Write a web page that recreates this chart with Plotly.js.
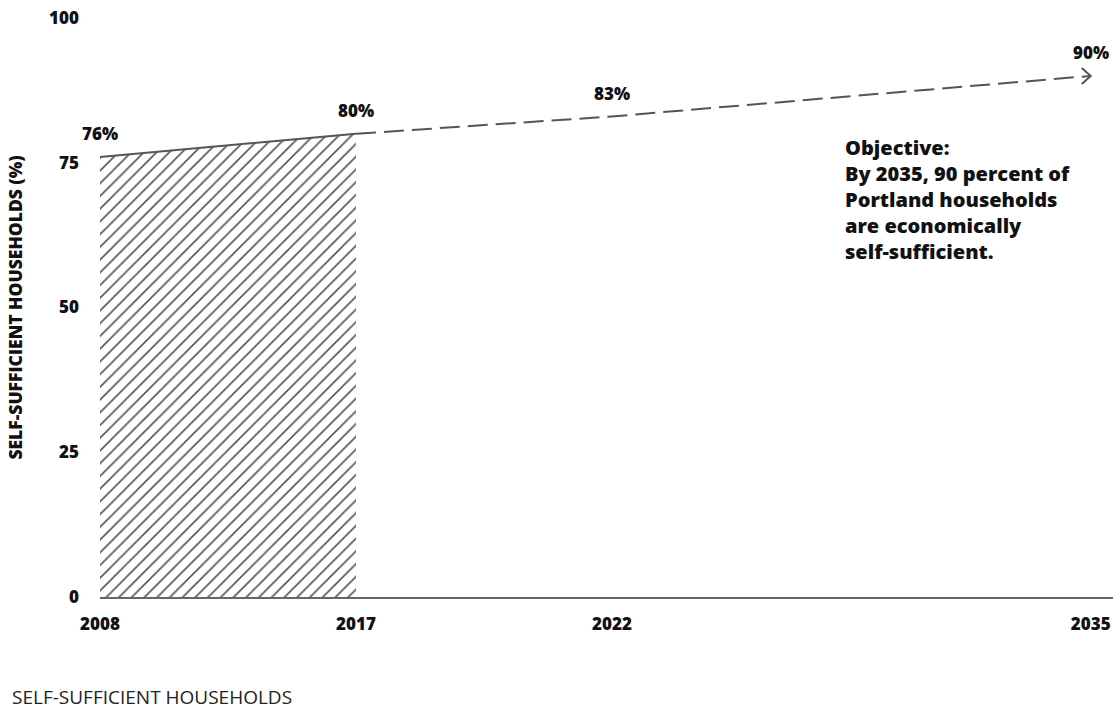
<!DOCTYPE html>
<html>
<head>
<meta charset="utf-8">
<script src="https://cdn.plot.ly/plotly-3.0.1.min.js"></script>
<style>
  html, body { margin: 0; padding: 0; background: #fff; }
  #chart { width: 1117px; height: 715px; }
</style>
</head>
<body>
<div id="chart"></div>
<script>
// ---- data ----
const years = ['2008', '2017', '2022', '2035'];
const values = [76, 80, 83, 90];           // percent of self-sufficient households
const actualCount = 2;                      // 2008 and 2017 are observed; rest are targets
const yTicks = [0, 25, 50, 75, 100];
const yTitle = 'SELF-SUFFICIENT HOUSEHOLDS (%)';
const objectiveText = 'Objective:<br>By 2035, 90 percent of<br>Portland households<br>are economically<br>self-sufficient.';
const footerText = 'SELF-SUFFICIENT HOUSEHOLDS';

// ---- axis slots (non-linear placement of the years, as in the original) ----
const slot = [0, 1, 2, 3.87];
const xMax = 3.957;

const lineColor = '#555555';
const textColor = '#111111';
const fontFam = '"Open Sans", "Noto Sans", sans-serif';

const actX = slot.slice(0, actualCount);
const actY = values.slice(0, actualCount);
const tgtX = slot.slice(actualCount - 1);
const tgtY = values.slice(actualCount - 1);

const traces = [
  {
    x: actX, y: actY, type: 'scatter', mode: 'none',
    fill: 'tozeroy', fillcolor: 'rgba(0,0,0,0)',
    fillpattern: { shape: '/', size: 9, solidity: 0.18, fgcolor: lineColor, bgcolor: 'rgba(0,0,0,0)' },
    hoverinfo: 'skip', showlegend: false
  },
  {
    x: actX, y: actY, type: 'scatter', mode: 'lines',
    line: { color: lineColor, width: 2 }, hoverinfo: 'skip', showlegend: false
  },
  {
    x: tgtX, y: tgtY, type: 'scatter', mode: 'lines',
    line: { color: lineColor, width: 2, dash: '20px,8px' }, hoverinfo: 'skip', showlegend: false
  }
];

const annotations = values.map((v, i) => ({
  x: slot[i], y: v, xref: 'x', yref: 'y', text: v + '%', showarrow: false,
  yshift: 23, font: { family: fontFam, size: 17, color: textColor, weight: 800 }
}));

annotations.push({
  xref: 'paper', yref: 'paper', x: 0.7335, y: 0.803, xanchor: 'left', yanchor: 'top',
  align: 'left', showarrow: false, text: objectiveText,
  font: { family: fontFam, size: 20, color: textColor, weight: 800 }
});
annotations.push({
  xref: 'paper', yref: 'paper', x: -0.089, y: -0.1727, xanchor: 'left', yanchor: 'middle',
  align: 'left', showarrow: false, text: footerText,
  font: { family: fontFam, size: 19, color: '#222222', weight: 400 }
});

const layout = {
  width: 1117, height: 715,
  margin: { l: 100, r: 4, t: 18, b: 118 },
  paper_bgcolor: '#ffffff', plot_bgcolor: '#ffffff',
  showlegend: false,
  xaxis: {
    range: [0, xMax], tickvals: slot, ticktext: years,
    showgrid: false, zeroline: false, showline: true, linecolor: '#666666', linewidth: 2,
    ticks: '', ticklabelstandoff: 11,
    tickfont: { family: fontFam, size: 17, color: textColor, weight: 800 }
  },
  yaxis: {
    range: [0, 100], tickvals: yTicks,
    showgrid: false, zeroline: false, showline: false,
    ticks: '', ticklabelstandoff: 20,
    tickfont: { family: fontFam, size: 17, color: textColor, weight: 800 },
    title: { text: yTitle, standoff: 21, font: { family: fontFam, size: 17.5, color: textColor, weight: 800 } }
  },
  shapes: [{
    type: 'path', xref: 'x', yref: 'y', xsizemode: 'pixel', ysizemode: 'pixel',
    xanchor: slot[slot.length - 1], yanchor: values[values.length - 1],
    path: 'M -9 8 L 0 0 L -9 -8',
    line: { color: lineColor, width: 2 }
  }],
  annotations: annotations
};

Plotly.newPlot('chart', traces, layout, { staticPlot: true, displayModeBar: false });
</script>
</body>
</html>
